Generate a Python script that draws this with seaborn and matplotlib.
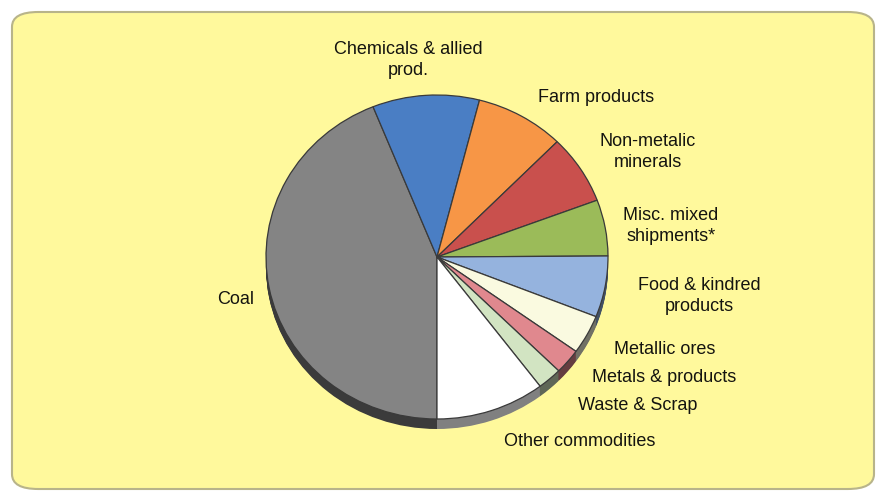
import matplotlib
matplotlib.use("Agg")
import matplotlib.pyplot as plt
import seaborn as sns
from matplotlib.patches import FancyBboxPatch
import matplotlib.colors as mcolors

categories = ["Coal", "Chemicals & allied\nprod.", "Farm products", "Non-metalic\nminerals",
              "Misc. mixed\nshipments*", "Food & kindred\nproducts", "Metallic ores",
              "Metals & products", "Waste & Scrap", "Other commodities"]
shares = [43.9, 10.1, 8.4, 6.9, 5.6, 6.1, 3.9, 2.5, 2.3, 10.3]
colors = ["#848484", "#4A7EC4", "#F79646", "#C9504D", "#9BBB59", "#95B3DE",
          "#FAFAE0", "#E0888E", "#D2E4C2", "#FFFFFF"]

sns.set_theme(style="white")
plt.rcParams["font.family"] = ["Liberation Sans", "DejaVu Sans"]

W, H = 877, 492
fig = plt.figure(figsize=(W / 100, H / 100), dpi=100)
fig.patch.set_facecolor("white")

# yellow rounded panel
panel = FancyBboxPatch((12 / W, 3 / H), (W - 15) / W, (H - 15) / H,
                       boxstyle="round,pad=0,rounding_size=0.03",
                       transform=fig.transFigure, facecolor="#FFF99C",
                       edgecolor="#B8B48A", linewidth=1.5, zorder=-5)
fig.patches.append(panel)

ax = fig.add_axes([0, 0, 1, 1])
ax.set_zorder(2)
ax.set_facecolor("none")
ax.patch.set_alpha(0)
cx, cy = 437, 257
rx, ry = 171, 162
k = rx / ry
R = rx

def darken(c, f):
    r, g, b = mcolors.to_rgb(c)
    return (r * f, g * f, b * f)

side_colors = [darken(c, 0.45) for c in colors]
side_colors[-1] = darken(colors[-1], 0.5)
depth = 10 * k
n_layers = 12
for i in range(n_layers, 0, -1):
    off = depth * i / n_layers
    ax.pie(shares, colors=side_colors, startangle=-90, counterclock=False,
           radius=R, center=(0, -off),
           wedgeprops=dict(edgecolor="none", linewidth=0), normalize=True)

ax.pie(shares, colors=colors, startangle=-90, counterclock=False,
       radius=R, center=(0, 0),
       wedgeprops=dict(edgecolor="#3A3A3A", linewidth=0.9), normalize=True)

ax.set_aspect("auto")
ax.set_xlim(-cx, W - cx)
ax.set_ylim(-(H - cy) * k, cy * k)
ax.axis("off")

label_pos = [(236, 300), (408, 60), (596, 97), (648, 152), (671, 226),
             (699, 296), (665, 350), (664, 378), (638, 406), (580, 441)]
for lab, (x, y) in zip(categories, label_pos):
    fig.text(x / W, 1 - y / H, lab, ha="center", va="center",
             multialignment="center", fontsize=13, color="#141410",
             linespacing=1.25, zorder=5)

fig.savefig("out.png", dpi=100)
